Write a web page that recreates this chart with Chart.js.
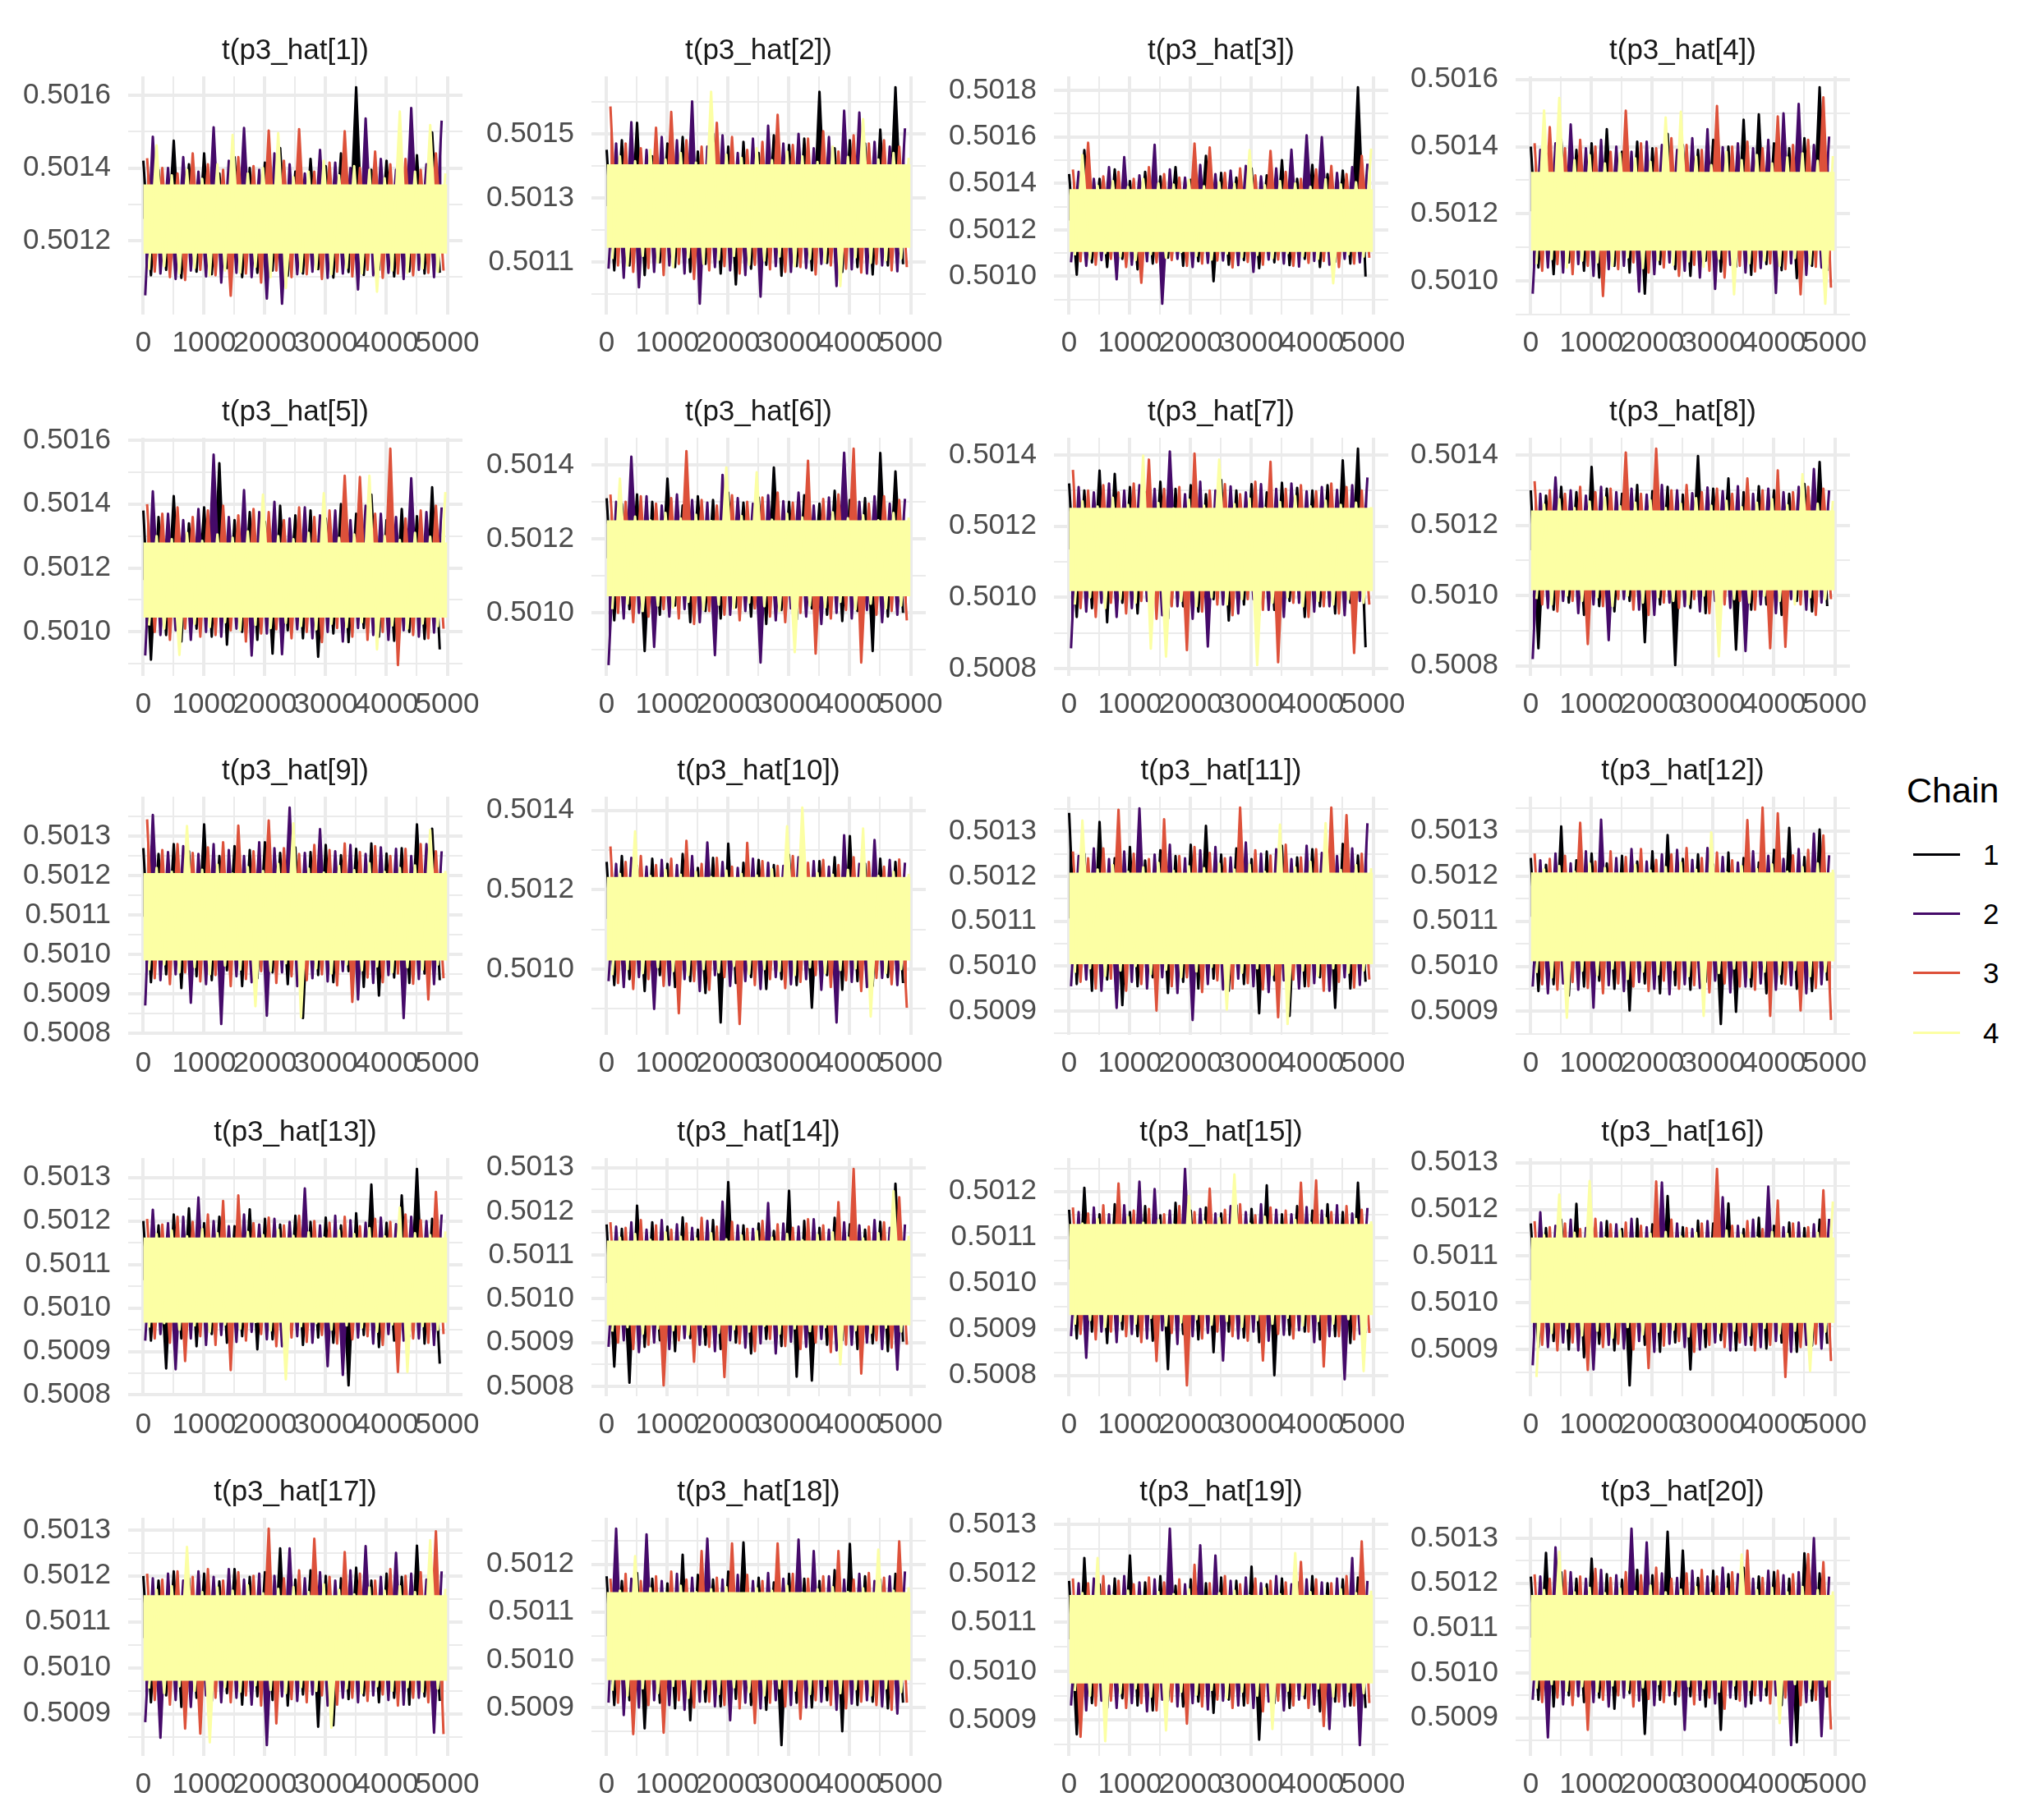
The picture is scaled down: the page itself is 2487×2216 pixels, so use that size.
<!DOCTYPE html>
<html><head><meta charset="utf-8">
<script src="https://cdn.jsdelivr.net/npm/chart.js@4.4.1/dist/chart.umd.min.js"></script>
<style>
html,body{margin:0;padding:0;background:#fff;}
body{width:2487px;height:2216px;position:relative;overflow:hidden;font-family:"Liberation Sans",Arial,Helvetica,sans-serif;}
canvas{position:absolute;}
.lg{position:absolute;white-space:nowrap;color:#000;}
</style></head><body>
<script>
// ---- chain legend ----
const CHAIN_LABELS = ['1','2','3','4'];
const CHAIN_COLORS = ['#000004','#450A69','#DD513A','#FCFFA4'];
// ---- x axis (iterations) ----
const xMajorTicks = [0,1000,2000,3000,4000,5000];
const ITER_FIRST = 1, ITER_LAST = 5000, ITER_STEP = 125, CHAIN_STAGGER = 31; // thinned draws, chains staggered
// ---- y tick labels per panel ----
const yTicks01=[0.5012,0.5014,0.5016];
const yTicks02=[0.5011,0.5013,0.5015];
const yTicks03=[0.5010,0.5012,0.5014,0.5016,0.5018];
const yTicks04=[0.5010,0.5012,0.5014,0.5016];
const yTicks05=[0.5010,0.5012,0.5014,0.5016];
const yTicks06=[0.5010,0.5012,0.5014];
const yTicks07=[0.5008,0.5010,0.5012,0.5014];
const yTicks08=[0.5008,0.5010,0.5012,0.5014];
const yTicks09=[0.5008,0.5009,0.5010,0.5011,0.5012,0.5013];
const yTicks10=[0.5010,0.5012,0.5014];
const yTicks11=[0.5009,0.5010,0.5011,0.5012,0.5013];
const yTicks12=[0.5009,0.5010,0.5011,0.5012,0.5013];
const yTicks13=[0.5008,0.5009,0.5010,0.5011,0.5012,0.5013];
const yTicks14=[0.5008,0.5009,0.5010,0.5011,0.5012,0.5013];
const yTicks15=[0.5008,0.5009,0.5010,0.5011,0.5012];
const yTicks16=[0.5009,0.5010,0.5011,0.5012,0.5013];
const yTicks17=[0.5009,0.5010,0.5011,0.5012,0.5013];
const yTicks18=[0.5009,0.5010,0.5011,0.5012];
const yTicks19=[0.5009,0.5010,0.5011,0.5012,0.5013];
const yTicks20=[0.5009,0.5010,0.5011,0.5012,0.5013];
// ---- trace values: millionths above 0.5 (value = 0.5 + u*1e-6) ----
const BASE = 0.5, UNIT = 1e-6;
const p1_chain1=[1420,1105,1395,1120,1475,1098,1410,1115,1440,1108,1385,1125,1430,1100,1400,1112,1415,1118,1455,1104,1390,1110,1425,1122,1405,1099,1440,1114,1622,1106,1395,1120,1420,1102,1410,1116,1435,1110,1498,1112];
const p1_chain2=[1050,1486,1110,1400,1095,1430,1118,1390,1102,1512,1085,1420,1112,1510,1100,1395,1041,1440,1027,1410,1108,1385,1115,1450,1098,1415,1110,1400,1066,1536,1105,1425,1112,1395,1095,1565,1120,1410,1100,1530];
const p1_chain3=[1427,1115,1400,1100,1385,1092,1440,1120,1410,1105,1395,1049,1430,1110,1405,1085,1503,1118,1420,1100,1507,1108,1390,1095,1415,1115,1501,1102,1400,1120,1445,1098,1410,1110,1425,1105,1395,1112,1440,1118];
const p1_chain4=[1120,1462,1130,1380,1110,1395,1125,1370,1105,1410,1118,1491,1112,1385,1128,1400,1100,1496,1070,1375,1115,1390,1122,1420,1108,1380,1125,1405,1110,1395,1060,1372,1118,1555,1112,1390,1124,1518,1115,1385];
const p2_chain1=[1450,1075,1480,1090,1534,1060,1430,1100,1470,1085,1490,1070,1445,1095,1500,1065,1460,1031,1475,1080,1440,1092,1495,1058,1465,1088,1485,1075,1631,1098,1455,1070,1480,1085,1470,1062,1513,1090,1645,1094];
const p2_chain2=[1080,1470,1052,1536,1022,1450,1070,1490,1090,1480,1065,1601,971,1460,1085,1495,1075,1440,1060,1485,993,1525,1088,1470,1070,1500,1082,1455,1095,1490,1026,1572,1078,1566,1065,1475,1090,1460,1072,1517];
const p2_chain3=[1585,1090,1470,1070,1455,1082,1519,1060,1568,1095,1480,1048,1460,1075,1534,1088,1490,1065,1450,1092,1475,1078,1559,1070,1465,1085,1485,1062,1508,1090,1445,1080,1495,1068,1470,1095,1480,1075,1460,1085];
const p2_chain4=[1110,1430,1090,1415,1120,1450,1100,1420,1085,1440,1115,1410,1095,1631,1108,1435,1120,1425,1092,1455,1105,1418,1118,1445,1088,1430,1110,1412,1100,1460,1026,1428,1115,1546,1098,1420,1106,1440,1112,1425];
const p3_chain1=[1440,1007,1543,1060,1420,1040,1460,1075,1410,1030,1450,1055,1430,1080,1470,1045,1415,1065,1519,979,1445,1050,1425,1070,1465,1035,1435,1060,1500,1048,1420,1075,1480,1040,1440,1062,1455,1055,1814,999];
const p3_chain2=[1060,1450,1045,1420,1070,1470,987,1513,1050,1435,1065,1566,882,1460,1075,1425,1040,1480,1058,1440,1068,1455,1048,1475,1019,1430,1072,1465,1055,1545,1042,1607,1066,1599,1050,1445,1075,1470,1060,1485];
const p3_chain3=[1460,1065,1575,1050,1430,1075,1450,1040,1420,972,1470,1060,1440,1070,1425,1045,1572,1055,1555,1068,1445,1038,1465,1062,1435,1050,1540,1072,1450,1045,1420,1058,1460,1066,1475,1040,1440,1055,1519,1080];
const p3_chain4=[1090,1522,1075,1390,1100,1410,1085,1385,1070,1420,1095,1400,1080,1395,1105,1415,1088,1388,1072,1405,1098,1398,1082,1543,1092,1392,1078,1410,1100,1400,1086,1385,1075,1418,970,1396,1095,1405,1085,1550];
const p4_chain1=[1400,1040,1380,1020,1420,1055,1390,1030,1410,1010,1452,1045,1385,1025,1415,962,1395,1050,1438,1035,1405,1015,1390,1060,1420,1028,1400,1042,1480,1018,1496,1050,1410,1032,1395,1008,1425,1045,1577,1030];
const p4_chain2=[962,1390,1040,1410,1025,1466,1050,1395,1015,1420,1035,1400,1045,1385,968,1415,1020,1405,1055,1390,1030,1425,1010,1452,976,1398,1048,1410,1025,1395,1038,1420,964,1499,1052,1527,1018,1405,1040,1430];
const p4_chain3=[1410,1030,1458,1050,1395,1020,1420,1045,1400,955,1385,1035,1507,1055,1410,1025,1395,1040,1425,1015,1405,1048,1390,1030,1521,1010,1400,1045,1415,1028,1395,1052,1490,1035,1405,960,1420,1042,1547,980];
const p4_chain4=[1050,1508,1065,1545,1040,1360,1060,1375,1055,1350,1045,1380,1070,1365,1038,1355,1062,1487,1048,1504,1058,1370,1042,1345,1066,1385,960,1360,1052,1375,1060,1350,1045,1368,1068,1380,1050,1358,932,1372];
const p5_chain1=[1380,913,1360,990,1425,970,1340,1010,1390,985,1528,960,1350,1000,1375,975,1345,932,1395,1005,1365,980,1380,922,1355,995,1400,968,1370,1012,1430,985,1350,972,1385,1000,1362,978,1453,945];
const p5_chain2=[926,1440,990,1370,1005,1350,975,1385,1000,1555,985,1360,1010,1444,926,1375,995,1407,930,1355,1008,1390,980,1365,1000,1380,970,1350,1012,1395,990,1370,975,1360,1005,1481,985,1375,998,1390];
const p5_chain3=[1400,1000,1370,975,1390,1010,1360,985,1380,990,1395,1005,1365,970,1385,995,1375,1008,1350,980,1390,1000,1360,968,1380,1012,1489,985,1485,975,1370,1000,1574,896,1355,990,1380,980,1395,1010];
const p5_chain4=[1020,1300,1010,1290,928,1310,1025,1285,1015,1305,1030,1295,1005,1315,1022,1430,1012,1300,1028,1290,1018,1310,1008,1434,1025,1295,1015,1305,1030,1489,945,1300,1020,1288,1010,1310,1026,1298,1018,1438];
const p6_chain1=[1310,980,1295,1010,1320,897,1300,995,1363,1020,1290,975,1315,1005,1305,985,1325,1015,1298,990,1312,970,1393,1008,1300,982,1318,1012,1295,995,1330,978,1305,1005,1310,897,1432,990,1382,1000];
const p6_chain2=[859,1300,985,1422,1000,1315,908,1290,990,1320,1010,1305,975,1298,886,1373,995,1310,1005,1295,866,1318,980,1302,1012,1325,990,1290,970,1312,1000,1433,985,1300,1008,1315,975,1295,995,1308];
const p6_chain3=[1320,1000,1300,975,1315,990,1295,1010,1310,985,1437,970,1305,1005,1290,995,1318,980,1300,1012,1312,990,1325,975,1298,1000,1411,890,1308,985,1320,1008,1444,866,1295,995,1315,1005,1305,980];
const p6_chain4=[1010,1363,1025,1260,1005,1250,1020,1270,1015,1255,1030,1265,1008,1248,1022,1393,1012,1262,1028,1380,1018,1252,1005,1268,894,1258,1020,1245,1015,1272,1030,1256,1010,1264,1025,1250,1012,1270,1020,1258];
const p7_chain1=[1320,945,1300,970,1356,930,1347,985,1310,955,1295,990,1325,940,1305,975,1315,960,1290,995,1330,935,1300,980,1318,950,1295,965,1322,990,1308,945,1300,975,1315,955,1385,985,1418,860];
const p7_chain2=[857,1310,960,1295,985,1320,945,1300,970,1315,990,1305,950,1410,975,1290,940,1325,862,1300,980,1312,955,1295,995,1318,965,1305,945,1320,985,1298,960,1310,975,1302,950,1315,990,1337];
const p7_chain3=[1358,970,1300,945,1315,985,1295,955,1320,990,1387,940,1305,975,1310,852,1404,960,1300,980,1318,950,1290,995,1325,965,1381,818,1305,985,1315,945,1298,975,1320,955,1310,844,1300,980];
const p7_chain4=[980,1270,1000,1255,970,1280,995,1260,985,1398,856,1265,834,1250,990,1275,975,1258,1000,1387,980,1262,995,1278,810,1252,985,1268,1000,1285,975,1256,990,1272,980,1260,995,1266,985,1254];
const p8_chain1=[1300,850,1285,960,1310,980,1295,945,1367,970,1305,955,1290,985,1315,867,1298,975,1310,802,1288,965,1398,950,1305,990,1334,846,1295,960,1312,975,1300,945,1290,985,1318,955,1381,970];
const p8_chain2=[819,1290,965,1337,985,1300,950,1285,975,1310,873,1295,990,1305,960,1288,945,1315,980,1300,970,1292,955,1308,985,1298,965,1312,842,1290,975,1305,950,1295,990,1310,960,1361,980,1300];
const p8_chain3=[1326,975,1300,955,1290,985,1310,862,1295,970,1305,990,1408,960,1290,945,1419,980,1300,965,1315,990,1295,950,1305,975,1290,985,1334,960,1300,850,1357,854,1295,975,1310,945,1305,990];
const p8_chain4=[990,1260,975,1275,1000,1250,985,1268,995,1280,970,1255,1000,1265,980,1272,995,1250,985,1262,975,1278,1000,1256,827,1270,990,1252,980,1265,1000,1275,985,1258,975,1346,995,1262,990,1270];
const p9_chain1=[1270,930,1255,950,1280,915,1262,945,1330,935,1250,960,1275,920,1265,940,1285,955,1258,925,1272,839,1260,948,1278,930,1252,958,1268,918,1282,896,1256,942,1270,928,1330,952,1319,935];
const p9_chain2=[871,1354,935,1260,950,1275,878,1255,925,1280,824,1265,945,1250,930,1285,845,1270,955,1373,920,1258,940,1318,932,1262,958,1278,886,1255,928,1272,948,1268,839,1250,938,1280,925,1262];
const p9_chain3=[1343,940,1265,925,1280,955,1258,932,1272,948,1285,920,1327,938,1262,958,1340,928,1270,945,1255,935,1278,950,1265,922,1282,880,1260,942,1275,930,1250,952,1268,926,1280,886,1262,940];
const p9_chain4=[960,1220,975,1210,955,1326,968,1215,950,1228,972,1205,962,1222,869,1212,958,1230,978,1333,841,1218,965,1208,952,1225,975,1214,960,1232,970,1210,955,1220,968,1226,962,1316,975,1212];
const p10_chain1=[1270,960,1285,975,1260,945,1278,985,1265,955,1290,970,1255,940,1280,866,1316,965,1268,980,1275,950,1262,975,1288,960,1258,903,1272,985,1282,948,1335,970,1266,958,1278,980,1270,965];
const p10_chain2=[970,1265,955,1280,980,1258,900,1275,960,1262,975,1285,945,1319,985,1270,958,1255,970,1278,950,1268,980,1260,962,1282,975,1272,948,1258,866,1337,968,1265,955,1325,978,1275,960,1268];
const p10_chain3=[1309,965,1270,950,1285,975,1262,958,1278,889,1323,970,1265,948,1280,980,1258,862,1318,960,1272,975,1260,952,1285,968,1268,985,1275,955,1262,972,1282,945,1270,978,1258,962,1276,903];
const p10_chain4=[985,1240,1000,1347,990,1235,1005,1250,995,1238,985,1245,1000,1232,992,1248,1008,1240,988,1236,1000,1252,995,1360,985,1407,1005,1242,990,1238,998,1250,1002,1354,881,1235,990,1245,1000,1240];
const p11_chain1=[1341,960,1250,945,1321,970,1240,913,1265,955,1235,975,1258,940,1245,965,1270,950,1312,972,1248,945,1262,960,1238,895,1255,968,1268,889,1242,955,1260,975,1250,907,1272,950,1246,965];
const p11_chain2=[955,1245,970,1262,945,1238,907,1255,965,1351,950,1248,975,1270,940,1240,880,1258,960,1265,948,1242,972,1275,955,1250,942,1260,968,1238,950,1268,962,1252,945,1245,975,1262,958,1318];
const p11_chain3=[1255,965,1240,950,1262,972,1348,945,1250,960,1238,901,1327,955,1245,975,1265,942,1252,968,1240,950,1353,962,1258,948,1246,886,1270,970,1242,955,1260,945,1353,965,1336,952,1250,970];
const p11_chain4=[985,1324,995,1215,978,1225,990,1210,1000,1220,982,1230,992,1212,975,1222,988,1218,998,1228,903,1215,985,1226,995,1210,980,1315,871,1220,990,1232,978,1318,995,1214,985,1225,990,1218];
const p12_chain1=[1240,945,1225,960,1310,935,1235,955,1250,968,1228,950,1245,902,1232,962,1255,940,1291,958,1238,948,1248,965,1226,872,1252,899,1240,955,1230,940,1258,962,1307,950,1242,945,1303,968];
const p12_chain2=[955,1235,940,1250,962,1228,948,1255,908,1325,958,1240,945,1260,965,1232,950,1248,938,1258,960,1236,952,1262,968,1242,942,1230,955,1255,962,1245,948,1238,958,1260,940,1294,960,1246];
const p12_chain3=[1250,960,1238,948,1245,965,1318,952,1232,940,1255,962,1242,955,1260,945,1236,968,1248,950,1262,958,1240,942,1252,962,1235,955,1324,948,1352,890,1339,960,1246,902,1258,952,1290,881];
const p12_chain4=[985,1215,975,1222,886,1210,990,1228,980,1218,995,1205,972,1225,988,1212,982,1220,992,1230,978,1214,890,1297,985,1208,995,1222,975,1216,988,1226,982,1210,992,1220,978,1228,988,1214];
const p13_chain1=[1200,925,1190,861,1215,930,1229,912,1195,940,1210,920,1188,935,1227,905,1205,928,1192,942,1212,915,1198,932,1208,920,1190,822,1218,938,1284,910,1196,925,1259,935,1320,918,1205,872];
const p13_chain2=[925,1226,940,1195,859,1210,930,1254,915,1200,938,1188,922,1215,945,1192,928,1205,912,1198,935,1275,920,1190,866,1212,846,1202,932,1196,918,1208,940,1193,925,1210,930,1200,915,1215];
const p13_chain3=[1205,930,1192,920,1210,878,1198,935,1215,915,1246,857,1259,925,1195,940,1208,912,1190,932,1212,922,1200,938,1196,918,1210,928,1188,935,1205,915,1198,853,1215,930,1202,920,1267,940];
const p13_chain4=[955,1170,965,1178,950,1165,960,1182,945,1172,962,1160,952,1175,968,1168,948,1180,836,1166,958,1174,965,1162,950,1178,960,1170,955,1184,945,1165,962,1231,853,1172,958,1168,950,1176];
const p14_chain1=[1170,845,1160,808,1213,890,1175,905,1165,880,1186,910,1158,895,1180,885,1267,900,1168,875,1172,908,1155,892,1247,822,1178,813,1162,895,1185,905,1170,885,1158,898,1176,880,1263,902];
const p14_chain2=[890,1165,905,1175,878,1158,900,1180,885,1170,910,1162,895,1178,880,1222,905,1168,888,1160,898,1219,875,1172,902,1165,890,1182,908,1158,882,1175,895,1168,900,1180,885,1162,838,1170];
const p14_chain3=[1175,900,1162,885,1180,895,1168,802,1158,905,1172,856,1185,890,1165,821,1176,898,1160,880,1178,908,1170,892,1162,885,1182,900,1168,878,1221,895,1297,829,1165,905,1175,888,1232,895];
const p14_chain4=[925,1140,935,1148,920,1135,932,1152,928,1142,918,1138,935,1150,922,1136,930,1145,925,1155,938,1140,920,1148,932,1134,926,1146,935,1152,850,1140,928,1138,922,1150,934,1246,925,1144];
const p15_chain1=[1160,880,1208,895,1150,870,1172,900,1155,885,1168,875,1148,813,1175,890,1158,878,1165,850,1152,895,1170,882,1162,872,1213,800,1150,888,1168,895,1158,878,1172,885,1155,870,1219,892];
const p15_chain2=[885,1155,838,1165,895,1150,872,1170,890,1221,880,1205,898,1158,868,1249,885,1162,892,1152,832,1168,880,1155,895,1172,875,1160,888,1150,898,1166,872,1158,885,1170,791,1152,890,1164];
const p15_chain3=[1165,890,1152,878,1170,895,1217,885,1158,872,1162,831,1150,892,1168,778,1155,880,1206,895,1160,885,1172,875,1148,832,1165,890,1158,880,1219,895,1224,819,1155,885,1168,878,1160,892];
const p15_chain4=[910,1130,920,1140,905,1125,918,1145,912,1132,925,1138,908,1128,915,1190,922,1135,910,1142,918,1237,905,1130,920,1145,912,1128,925,1138,908,1132,918,1142,912,1126,922,1140,809,1135];
const p16_chain1=[1170,905,1160,918,1178,900,1212,883,1165,912,1175,898,1158,823,1180,910,1168,895,1229,915,1162,857,1176,905,1170,920,1213,898,1158,910,1182,902,1165,915,1172,895,1160,908,1178,912];
const p16_chain2=[866,1194,905,1165,915,1178,898,1160,857,1172,910,1168,902,1180,918,1162,895,1258,912,1170,905,1158,900,1175,915,1226,898,1165,910,1178,905,1249,918,1162,895,1172,910,1168,902,1180];
const p16_chain3=[1175,910,1162,898,1170,915,1158,856,1180,905,1168,912,1172,900,1165,860,1260,908,1178,918,1160,895,1170,910,1287,905,1165,915,1175,898,1158,910,1219,841,1170,905,1162,912,1241,875];
const p16_chain4=[841,1145,935,1232,945,1150,930,1261,940,1140,925,1155,948,1138,932,1148,938,1152,942,1142,928,1150,945,1136,935,1155,940,1145,930,1140,946,1152,934,1148,940,1138,854,1150,938,1217];
const p17_chain1=[1200,925,1190,940,1210,915,1195,935,1205,928,1188,945,1215,920,1198,938,1208,930,1260,918,1192,942,1212,872,1200,875,1195,932,1218,940,1190,925,1205,935,1198,920,1266,938,1210,928];
const p17_chain2=[882,1195,848,1205,930,1190,915,1210,940,1198,925,1215,935,1192,920,1205,832,1200,938,1260,928,1195,942,1208,918,1190,935,1212,925,1265,940,1198,930,1250,920,1205,935,1192,859,1210];
const p17_chain3=[1205,930,1192,920,1210,868,1198,857,1215,935,1190,925,1208,940,1200,918,1303,879,1195,932,1212,925,1281,940,1198,920,1252,935,1205,928,1190,942,1215,918,1200,935,1208,925,1297,856];
const p17_chain4=[955,1170,945,1178,960,1263,950,1165,838,1175,958,1168,948,1180,962,1162,952,1172,945,1176,958,1165,950,1182,870,1170,955,1160,945,1175,960,1168,950,1178,958,1165,948,1278,955,1172];
const p18_chain1=[1175,905,1165,915,1182,856,1170,910,1160,898,1220,873,1178,912,1168,902,1185,918,1246,905,1172,895,1162,821,1180,910,1170,900,1165,915,1188,850,1243,905,1175,912,1168,898,1180,910];
const p18_chain2=[910,1275,884,1170,900,1263,915,1165,905,1180,895,1172,912,1254,902,1168,873,1178,910,1165,898,1182,915,1170,905,1252,900,1228,912,1175,895,1168,908,1180,915,1165,902,1175,887,1185];
const p18_chain3=[1170,910,1180,844,1165,905,1175,847,1185,915,1168,900,1228,912,1172,905,1244,898,1178,867,1165,910,1244,902,1180,876,1170,915,1175,905,1228,898,1168,912,1182,905,1172,895,1248,910];
const p18_chain4=[935,1145,925,1217,940,1150,930,1140,945,1155,920,1142,938,1148,928,1152,942,1138,932,1150,925,1145,940,1155,935,1140,928,1148,945,1152,930,1142,938,1150,925,1231,940,1145,932,1152];
const p19_chain1=[1185,871,1232,935,1178,925,1190,945,1237,930,1182,920,1195,940,1175,928,1188,938,1180,915,1192,942,1185,930,1214,860,1178,935,1190,925,1183,945,1195,918,1180,938,1188,930,1192,925];
const p19_chain2=[930,1180,920,1190,940,1175,925,1195,935,1182,918,1188,942,1292,928,1178,935,1258,922,1237,940,1185,930,1192,925,1180,938,1195,920,1178,942,1188,932,1182,882,1190,928,1232,849,1185];
const p19_chain3=[1190,866,1180,930,1195,940,1185,925,1178,935,1192,920,1182,938,1188,893,1218,928,1180,942,1195,925,1178,935,1190,918,1185,940,1182,930,1224,925,1188,888,1180,938,1195,930,1266,935];
const p19_chain4=[960,1160,950,1232,857,1155,955,1165,965,1150,948,1162,879,1158,958,1168,952,1152,962,1160,945,1165,958,1155,950,1170,882,1158,960,1242,952,1162,965,1155,948,1168,958,1160,955,1165];
const p20_chain1=[1215,940,1268,925,1225,950,1210,935,1255,945,1220,920,1208,955,1230,864,1218,940,1315,930,1273,948,1212,925,1228,873,1220,942,1235,932,1215,950,1225,928,1210,845,1267,938,1222,945];
const p20_chain2=[940,1215,856,1280,930,1225,948,1210,935,1230,925,1218,945,1322,938,1291,928,1222,950,1212,873,1228,940,1215,932,1235,945,1220,925,1210,938,1228,950,1218,839,1225,935,1301,859,1215];
const p20_chain3=[1220,935,1210,945,1228,928,1215,873,1232,940,1212,950,1225,925,1218,942,1235,935,1210,948,1222,930,1230,945,1215,920,1225,938,1273,950,1212,932,1228,945,1220,928,1265,940,1247,874];
const p20_chain4=[965,1185,975,1270,960,1180,970,1190,958,1178,972,1188,962,1182,968,1195,975,1180,960,1186,970,1192,965,1178,958,1188,972,1264,962,1185,968,1190,888,1180,975,1192,965,1185,970,1182];
// dense (solid) part of chain 4's trace per panel, [low, high] in millionths above 0.5
const chain4DenseBand=[[1165,1355],[1145,1405],[1105,1375],[1090,1325],[1045,1280],[1045,1250],[1018,1252],[1015,1243],[985,1207],[1022,1232],[1004,1208],[1011,1208],[966,1162],[939,1133],[931,1129],[957,1140],[972,1158],[957,1142],[975,1156],[983,1174]];

// ---- assemble ----
const traces=[
 [p1_chain1,p1_chain2,p1_chain3,p1_chain4],[p2_chain1,p2_chain2,p2_chain3,p2_chain4],
 [p3_chain1,p3_chain2,p3_chain3,p3_chain4],[p4_chain1,p4_chain2,p4_chain3,p4_chain4],
 [p5_chain1,p5_chain2,p5_chain3,p5_chain4],[p6_chain1,p6_chain2,p6_chain3,p6_chain4],
 [p7_chain1,p7_chain2,p7_chain3,p7_chain4],[p8_chain1,p8_chain2,p8_chain3,p8_chain4],
 [p9_chain1,p9_chain2,p9_chain3,p9_chain4],[p10_chain1,p10_chain2,p10_chain3,p10_chain4],
 [p11_chain1,p11_chain2,p11_chain3,p11_chain4],[p12_chain1,p12_chain2,p12_chain3,p12_chain4],
 [p13_chain1,p13_chain2,p13_chain3,p13_chain4],[p14_chain1,p14_chain2,p14_chain3,p14_chain4],
 [p15_chain1,p15_chain2,p15_chain3,p15_chain4],[p16_chain1,p16_chain2,p16_chain3,p16_chain4],
 [p17_chain1,p17_chain2,p17_chain3,p17_chain4],[p18_chain1,p18_chain2,p18_chain3,p18_chain4],
 [p19_chain1,p19_chain2,p19_chain3,p19_chain4],[p20_chain1,p20_chain2,p20_chain3,p20_chain4]];
const yTicks=[yTicks01,yTicks02,yTicks03,yTicks04,yTicks05,yTicks06,yTicks07,yTicks08,yTicks09,yTicks10,
              yTicks11,yTicks12,yTicks13,yTicks14,yTicks15,yTicks16,yTicks17,yTicks18,yTicks19,yTicks20];
const titles=traces.map((_,i)=>'t(p3_hat['+(i+1)+'])');

// ---- layout ----
const FONT='"Liberation Sans", Arial, Helvetica, sans-serif';
const PANEL_W=407, PANEL_H=290;
const COL_LEFT=[156,720,1283,1845];
const ROW_TOP=[93,533,970,1410,1848];
const YAXIS_W=150, TITLE_H=60, XAXIS_H=70, RIGHT_PAD=50;
const GRID='#EBEBEB', MAJOR_W=4, MINOR_W=2, LINE_W=3;
const CHAIN_ORDER=[6,5,4,1], BAND_ORDER=3;
Chart.defaults.font.family=FONT;

const toValue=u=>BASE+u*UNIT;
const r7=v=>Math.round(v*1e7)/1e7;

const xRange=(ITER_LAST-ITER_FIRST)*0.05;
const xTickObjs=[];
xMajorTicks.forEach((v,k)=>{xTickObjs.push({value:v,major:true}); if(k<xMajorTicks.length-1) xTickObjs.push({value:(v+xMajorTicks[k+1])/2,major:false});});

traces.forEach((chains,i)=>{
  const col=i%4,row=Math.floor(i/4);
  const vals=chains.flat().map(toValue);
  const lo=Math.min(...vals),hi=Math.max(...vals),span=hi-lo;
  const yMin=lo-0.05*span,yMax=hi+0.05*span;
  const majors=yTicks[i],step=majors[1]-majors[0];
  const tmap=new Map();
  majors.forEach(m=>{[m-step/2,m+step/2].forEach(v=>{const k=r7(v); if(!tmap.has(k)) tmap.set(k,false);});});
  majors.forEach(m=>tmap.set(r7(m),true));
  const yTickObjs=[...tmap.entries()].filter(([v])=>v>=yMin&&v<=yMax).sort((a,b)=>a[0]-b[0]).map(([v,maj])=>({value:v,major:maj}));

  const band=chain4DenseBand[i];
  const bandMid=toValue((band[0]+band[1])/2);
  // each chain's trace is drawn as a line whose excursions are shaded back to the centre of the band,
  // giving the dense, overlapping look of 5000 draws
  const datasets=chains.map((arr,c)=>({
    label:CHAIN_LABELS[c],
    data:arr.map((u,j)=>({x:ITER_FIRST+CHAIN_STAGGER*c+ITER_STEP*j,y:toValue(u)})),
    borderColor:CHAIN_COLORS[c],backgroundColor:CHAIN_COLORS[c],borderWidth:LINE_W,borderJoinStyle:'round',
    pointRadius:0,tension:0,fill:{value:bandMid},order:CHAIN_ORDER[c]
  }));
  datasets.push({label:'4 (dense)',data:[{x:ITER_FIRST,y:toValue(band[1])},{x:ITER_LAST,y:toValue(band[1])}],
    fill:{value:toValue(band[0])},backgroundColor:CHAIN_COLORS[3],borderColor:CHAIN_COLORS[3],borderWidth:0,pointRadius:0,order:BAND_ORDER});

  const W=YAXIS_W+PANEL_W+RIGHT_PAD,H=TITLE_H+PANEL_H+XAXIS_H;
  const cv=document.createElement('canvas');
  cv.width=W;cv.height=H;
  cv.style.left=(COL_LEFT[col]-YAXIS_W)+'px';cv.style.top=(ROW_TOP[row]-TITLE_H)+'px';
  cv.style.width=W+'px';cv.style.height=H+'px';
  document.body.appendChild(cv);
  const gridLW=ctx=>(ctx.tick&&ctx.tick.major)?MAJOR_W:MINOR_W;
  new Chart(cv,{type:'line',data:{datasets},options:{
    responsive:false,devicePixelRatio:1,animation:false,parsing:false,normalized:true,
    layout:{padding:{left:0,right:RIGHT_PAD,top:0,bottom:0}},
    plugins:{legend:{display:false},tooltip:{enabled:false},filler:{propagate:false},
      title:{display:true,text:titles[i],color:'#1A1A1A',fullSize:false,
        font:{family:FONT,size:35,weight:'normal',lineHeight:1.2},padding:{top:8,bottom:10}}},
    scales:{
      x:{type:'linear',min:ITER_FIRST-xRange,max:ITER_LAST+xRange,bounds:'data',
        afterBuildTicks:a=>{a.ticks=xTickObjs.map(t=>({...t}));},
        afterFit:s=>{s.height=XAXIS_H;s.paddingLeft=0;s.paddingRight=0;},
        grid:{color:GRID,lineWidth:gridLW,drawTicks:false},border:{display:false},
        ticks:{autoSkip:false,maxRotation:0,minRotation:0,padding:14,color:'#4D4D4D',
          font:{family:FONT,size:35,lineHeight:1.2},
          callback:v=>(xMajorTicks.includes(v)?String(v):'')}},
      y:{type:'linear',min:yMin,max:yMax,bounds:'data',
        afterBuildTicks:a=>{a.ticks=yTickObjs.map(t=>({...t}));},
        afterFit:s=>{s.width=YAXIS_W;s.paddingTop=0;s.paddingBottom=0;},
        grid:{color:GRID,lineWidth:gridLW,drawTicks:false},border:{display:false},
        ticks:{autoSkip:false,padding:21,color:'#4D4D4D',font:{family:FONT,size:35,lineHeight:1.2},
          callback:function(v){return majors.some(m=>Math.abs(m-v)<1e-9)?v.toFixed(4):'';}}}
    }}});
});

// ---- legend ----
function addDiv(css,text){const d=document.createElement('div');d.className='lg';d.style.cssText=css;if(text!==undefined)d.textContent=text;document.body.appendChild(d);return d;}
addDiv('left:2321px;top:941px;font-size:43px;line-height:43px;','Chain');
const LEG_Y=[1040,1112,1184,1257];
CHAIN_LABELS.forEach((lab,c)=>{
  addDiv('left:2329px;top:'+(LEG_Y[c]-1.5)+'px;width:57px;height:3px;background:'+CHAIN_COLORS[c]+';');
  addDiv('left:2414px;top:'+(LEG_Y[c]-17)+'px;font-size:35px;line-height:35px;',lab);
});
</script>
</body></html>
